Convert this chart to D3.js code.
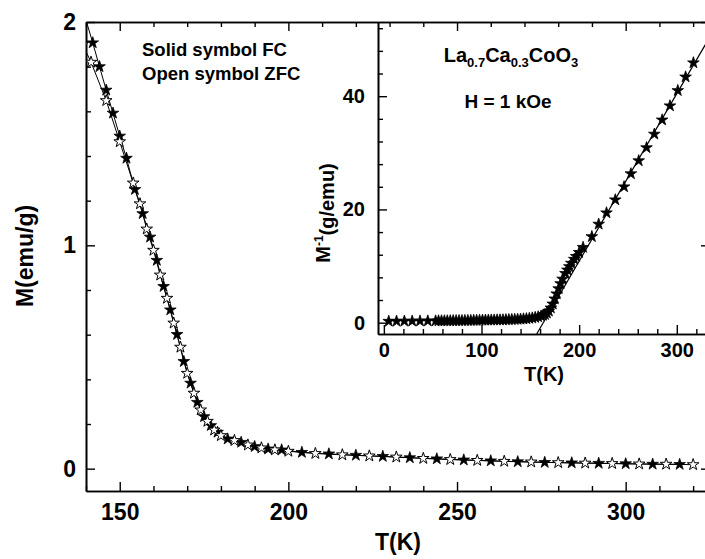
<!DOCTYPE html>
<html><head><meta charset="utf-8">
<script src="https://cdn.jsdelivr.net/npm/d3@7"></script>
<style>
body{margin:0;background:#fff}
svg{display:block}
text{font-family:Arial,"Liberation Sans",sans-serif;font-weight:bold;fill:#000}
</style>
</head><body>
<svg id="c" width="705" height="559"></svg>
<script>
// ---- Main panel data: M (emu/g) vs T (K) ----
const fcT  = [138, 142, 144, 146, 148, 150, 152, 154.5, 156.8, 159, 161, 163, 165, 167, 169, 171, 173, 175, 177, 179, 182, 186, 190, 194, 198, 204, 212, 220, 228, 236, 244, 252, 260, 268, 276, 284, 292, 300, 308, 316];
const fcM  = [2.11, 1.907, 1.80, 1.695, 1.592, 1.489, 1.39, 1.25, 1.142, 1.037, 0.933, 0.816, 0.711, 0.601, 0.48, 0.383, 0.297, 0.233, 0.193, 0.163, 0.133, 0.118, 0.099, 0.088, 0.084, 0.073, 0.066, 0.060, 0.055, 0.049, 0.044, 0.039, 0.035, 0.031, 0.028, 0.026, 0.024, 0.022, 0.020, 0.019];
const zfcT = [139, 141.5, 146, 150, 154, 156, 158, 160, 162, 164, 166, 168, 170, 172, 174, 176, 178, 180, 184, 188, 192, 196, 200, 208, 216, 224, 232, 240, 248, 256, 264, 272, 280, 288, 296, 304, 312, 320];
const zfcM = [1.90, 1.82, 1.648, 1.464, 1.279, 1.186, 1.073, 0.978, 0.867, 0.763, 0.652, 0.544, 0.427, 0.338, 0.263, 0.212, 0.173, 0.148, 0.126, 0.106, 0.093, 0.084, 0.078, 0.068, 0.062, 0.057, 0.052, 0.046, 0.041, 0.037, 0.033, 0.030, 0.027, 0.025, 0.023, 0.021, 0.020, 0.018];

// ---- Inset data: 1/M (g/emu) vs T (K) ----
const invT = [5, 13, 21, 29, 37, 45, 53, 56, 59, 62, 65, 68, 71, 74, 77, 80, 83, 86, 89, 92, 95, 98, 101, 104, 107, 110, 113, 116, 119, 122, 125, 128, 131, 134, 137, 140, 143, 146, 149, 152, 155, 158, 161, 163, 165, 167, 169, 171, 173, 175, 177, 179, 181, 183, 186, 188, 190, 192, 195, 197, 200, 204, 213, 220, 228, 237, 246, 253, 261, 269, 277, 285, 293, 301, 309, 317];
const invV = [0.25, 0.26, 0.27, 0.28, 0.29, 0.30, 0.31, 0.32, 0.32, 0.33, 0.33, 0.34, 0.35, 0.35, 0.36, 0.37, 0.38, 0.38, 0.39, 0.40, 0.41, 0.42, 0.43, 0.44, 0.45, 0.46, 0.47, 0.48, 0.49, 0.50, 0.52, 0.53, 0.55, 0.57, 0.59, 0.62, 0.66, 0.70, 0.76, 0.83, 0.92, 1.03, 1.17, 1.30, 1.45, 1.70, 2.05, 2.6, 3.3, 4.2, 5.1, 6.0, 6.9, 7.7, 8.7, 9.3, 9.9, 10.5, 11.2, 11.7, 12.4, 13.3, 15.2, 17.4, 19.4, 21.7, 24.0, 26.3, 28.6, 30.9, 33.3, 35.8, 38.3, 41.0, 43.4, 45.9];
// Curie-Weiss linear fit (end points)
const fitT = [156.5, 334];
const fitV = [-2.0, 50.5];

// ---- Tick labels ----
const mainXTicks = [150, 200, 250, 300];
const mainYTicks = [0, 1, 2];
const insetXTicks = [0, 100, 200, 300];
const insetYTicks = [0, 20, 40];

const svg = d3.select("#c");

// scales
const x  = d3.scaleLinear().domain([140, 325]).range([86, 710]);
const y  = d3.scaleLinear().domain([-0.1, 2.0]).range([491, 22]);
const ix = d3.scaleLinear().domain([-6, 334]).range([378, 710]);
const iy = d3.scaleLinear().domain([-2, 53.1]).range([334, 22]);

const defs = svg.append("defs");
defs.append("clipPath").attr("id","clipMain").append("rect")
  .attr("x",86).attr("y",22).attr("width",624).attr("height",469);
defs.append("clipPath").attr("id","clipInset").append("rect")
  .attr("x",378).attr("y",22).attr("width",332).attr("height",312);

function styleAxis(g, fs){
  g.select(".domain").attr("stroke","#000").attr("stroke-width",1.6);
  g.selectAll(".tick line").attr("stroke","#000").attr("stroke-width",1.4);
  g.selectAll(".tick text").attr("font-size",fs).attr("font-family","Arial, 'Liberation Sans', sans-serif").attr("font-weight","bold").attr("fill","#000");
}

const mainXMinor = d3.range(140, 330, 10).filter(v => !mainXTicks.includes(v));
const mainYMinor = d3.range(0, 2.01, 0.2).map(v => +v.toFixed(1)).filter(v => !mainYTicks.includes(v));

function addAxis(axisGen, tr, minorVals, majorVals, majorLen, minorLen, pad, fs, labels){
  const gm = svg.append("g").attr("transform", tr)
    .call(axisGen().tickValues(minorVals).tickSizeInner(-minorLen).tickSizeOuter(0).tickFormat(""));
  styleAxis(gm, fs);
  const g = svg.append("g").attr("transform", tr)
    .call(axisGen().tickValues(majorVals).tickSizeInner(-majorLen).tickSizeOuter(0).tickPadding(pad)
      .tickFormat(labels ? d3.format("d") : ""));
  styleAxis(g, fs);
  return g;
}

// ---- main axes ----
addAxis(() => d3.axisBottom(x), "translate(0,491)", mainXMinor, mainXTicks, 9, 5, 13, 23, true);
addAxis(() => d3.axisTop(x), "translate(0,22)", mainXMinor, mainXTicks, 9, 5, 5, 23, false);
addAxis(() => d3.axisLeft(y), "translate(86,0)", mainYMinor, mainYTicks, 9, 5, 10, 23, true);
addAxis(() => d3.axisRight(y), "translate(710,0)", mainYMinor, mainYTicks, 9, 5, 5, 23, false);

// ---- main data ----
const star = d3.symbol().type(d3.symbolStar).size(42);
const gMain = svg.append("g").attr("clip-path","url(#clipMain)");
const line = d3.line().x(d => x(d[0])).y(d => y(d[1]));
const fcData = fcT.map((t,i) => [t, fcM[i]]);
const zfcData = zfcT.map((t,i) => [t, zfcM[i]]);
gMain.append("path").datum(fcData).attr("d", line).attr("fill","none").attr("stroke","#000").attr("stroke-width",1);
gMain.append("path").datum(zfcData).attr("d", line).attr("fill","none").attr("stroke","#000").attr("stroke-width",1);
gMain.selectAll(".fc").data(fcData).join("path")
  .attr("transform", d => `translate(${x(d[0])},${y(d[1])})`)
  .attr("d", star).attr("fill","#000").attr("stroke","#000").attr("stroke-width",0.8);
gMain.selectAll(".zfc").data(zfcData).join("path")
  .attr("transform", d => `translate(${x(d[0])},${y(d[1])})`)
  .attr("d", star).attr("fill","#fff").attr("stroke","#000").attr("stroke-width",1);

// ---- main labels ----
svg.append("text").attr("transform","translate(25,256) rotate(-90)")
  .attr("text-anchor","middle").attr("dy","0.35em").attr("font-size",23).text("M(emu/g)");
svg.append("text").attr("x",398).attr("y",550).attr("text-anchor","middle").attr("font-size",23).text("T(K)");
svg.append("text").attr("x",142).attr("y",56).attr("font-size",18.5).text("Solid symbol FC");
svg.append("text").attr("x",142).attr("y",80).attr("font-size",18.5).text("Open symbol ZFC");

// ---- inset axes ----
const insetXMinor = d3.range(0, 330, 20).filter(v => !insetXTicks.includes(v));
const insetYMinor = d3.range(0, 53, 4).filter(v => !insetYTicks.includes(v));
addAxis(() => d3.axisBottom(ix), "translate(0,334)", insetXMinor, insetXTicks, 9, 5, 9, 20, true);
addAxis(() => d3.axisLeft(iy), "translate(378,0)", insetYMinor, insetYTicks, 9, 5, 13, 20, true);

// ---- inset data ----
const gIn = svg.append("g").attr("clip-path","url(#clipInset)");
const iline = d3.line().x(d => ix(d[0])).y(d => iy(d[1]));
const fitData = fitT.map((t,i) => [t, fitV[i]]);
gIn.append("path").datum(fitData).attr("d", iline).attr("fill","none").attr("stroke","#000").attr("stroke-width",1.2);
const invData = invT.map((t,i) => [t, invV[i]]);
gIn.selectAll(".inv").data(invData).join("path")
  .attr("transform", d => `translate(${ix(d[0])},${iy(d[1])})`)
  .attr("d", star).attr("fill","#000").attr("stroke","#000").attr("stroke-width",0.8);

// ---- inset labels ----
const yl = svg.append("text").attr("transform","translate(323,213) rotate(-90)")
  .attr("text-anchor","middle").attr("dy","0.35em").attr("font-size",20);
yl.append("tspan").text("M");
yl.append("tspan").attr("dy","-0.55em").attr("font-size",12).text("-1");
yl.append("tspan").attr("dy","0.55em").text("(g/emu)");
svg.append("text").attr("x",544).attr("y",381).attr("text-anchor","middle").attr("font-size",20).text("T(K)");

const f = svg.append("text").attr("x",511).attr("y",62).attr("text-anchor","middle").attr("font-size",20);
f.append("tspan").text("La");
f.append("tspan").attr("dy",5).attr("font-size",13).text("0.7");
f.append("tspan").attr("dy",-5).text("Ca");
f.append("tspan").attr("dy",5).attr("font-size",13).text("0.3");
f.append("tspan").attr("dy",-5).text("CoO");
f.append("tspan").attr("dy",5).attr("font-size",13).text("3");
svg.append("text").attr("x",508).attr("y",108).attr("text-anchor","middle").attr("font-size",19).text("H = 1 kOe");
</script>
</body></html>
